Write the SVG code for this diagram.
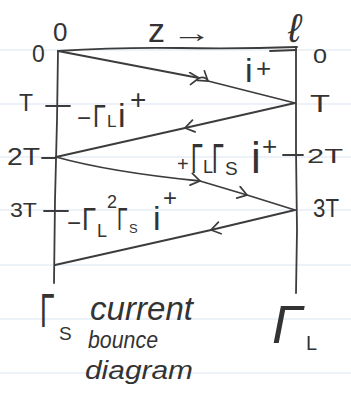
<svg xmlns="http://www.w3.org/2000/svg" width="351" height="395" viewBox="0 0 351 395">
<defs>
<style>
.ink{fill:none;stroke:#3c3c3c;stroke-width:1.8;stroke-linecap:round;stroke-linejoin:round}
.rule{stroke:#d9e5ef;stroke-width:1}
.t{font-family:"Liberation Sans","DejaVu Sans",sans-serif;fill:#333}
.it{font-style:italic}
</style>
<marker id="chev" viewBox="-12 -7 14 14" markerWidth="14" markerHeight="14" refX="0" refY="0" orient="auto" markerUnits="userSpaceOnUse">
<path d="M-9,-6 L0,0 L-9,6" fill="none" stroke="#3c3c3c" stroke-width="1.7" stroke-linecap="round"/>
</marker>
</defs>
<rect width="351" height="395" fill="#fff"/>
<g id="rules">
<line class="rule" x1="0" y1="50" x2="351" y2="50"/>
<line class="rule" x1="0" y1="104" x2="351" y2="104"/>
<line class="rule" x1="0" y1="157" x2="351" y2="157"/>
<line class="rule" x1="0" y1="210" x2="351" y2="210"/>
<line class="rule" x1="0" y1="265" x2="351" y2="265"/>
<line class="rule" x1="0" y1="319" x2="351" y2="319"/>
<line class="rule" x1="0" y1="373" x2="351" y2="373"/>
</g>
<g id="frame">
<path class="ink" d="M58,51 L57,120 L55,200 L54,283"/>
<path class="ink" d="M296,47 L296,150 L297,230 L296,293"/>
<path class="ink" d="M58,51 Q120,47 180,48 T297,47"/>
<path class="ink" d="M270,51 L296,50"/>
<path class="ink" d="M46,106 L70,106"/>
<path class="ink" d="M42,158 L56,158"/>
<path class="ink" d="M44,211 L68,211"/>
<path class="ink" d="M283,155 L303,155"/>
</g>
<g id="connectors">
<path class="ink" marker-mid="url(#chev)" d="M58,51 L199,78 Q205,76 208,81 L295,103"/>
<path class="ink" marker-mid="url(#chev)" d="M295,103 L185,128 L56,157"/>
<path class="ink" marker-mid="url(#chev)" d="M56,157 Q110,172 200,181 L247,195 L295,210"/>
<path class="ink" marker-mid="url(#chev)" d="M295,210 L211,230 L55,265"/>
</g>
<g id="label-top">
<text class="t" x="53" y="41" font-size="26">0</text>
<text class="t" x="32" y="62" font-size="23">0</text>
<text class="t" x="148" y="42" font-size="34">z</text>
<text class="t" x="172" y="42" font-size="26" textLength="40" lengthAdjust="spacingAndGlyphs">→</text>
<text class="t it" x="288" y="42" font-size="40">ℓ</text>
<text class="t" x="313" y="63" font-size="20" textLength="14" lengthAdjust="spacingAndGlyphs">0</text>
</g>
<g id="wave-incident">
<text class="t" x="245" y="82" font-size="34">i</text>
<text class="t" x="256" y="77" font-size="26">+</text>
</g>
<g id="label-T">
<text class="t" x="19" y="111" font-size="23">T</text>
<text class="t" x="310" y="112" font-size="23" textLength="20" lengthAdjust="spacingAndGlyphs">T</text>
</g>
<g id="wave-1">
<text class="t" x="77" y="126" font-size="24">−</text>
<text class="t" transform="translate(93,127) scale(0.75,1)" font-size="31">Γ</text>
<text class="t" x="107" y="127" font-size="17">L</text>
<text class="t" x="118" y="127" font-size="34">i</text>
<text class="t" x="130" y="109" font-size="28">+</text>
</g>
<g id="label-2T">
<text class="t" x="7" y="165" font-size="24" textLength="33" lengthAdjust="spacingAndGlyphs">2T</text>
<text class="t" x="307" y="163" font-size="21" textLength="36" lengthAdjust="spacingAndGlyphs">2T</text>
</g>
<g id="wave-2">
<text class="t" x="177" y="171" font-size="20">+</text>
<text class="t" transform="translate(191,173) scale(0.5,1)" font-size="43">Γ</text>
<text class="t" x="203" y="173" font-size="18">L</text>
<text class="t" transform="translate(212,173) scale(0.5,1)" font-size="43">Γ</text>
<text class="t" x="225" y="175" font-size="19">S</text>
<text class="t" x="251" y="173" font-size="44">i</text>
<text class="t" x="262" y="155" font-size="26">+</text>
</g>
<g id="label-3T">
<text class="t" x="10" y="217" font-size="20" textLength="27" lengthAdjust="spacingAndGlyphs">3T</text>
<text class="t" x="313" y="217" font-size="26" textLength="26" lengthAdjust="spacingAndGlyphs">3T</text>
</g>
<g id="wave-3">
<text class="t" x="67" y="231" font-size="24">−</text>
<text class="t" transform="translate(82,230) scale(0.8,1)" font-size="32">Γ</text>
<text class="t" x="97" y="237" font-size="18">L</text>
<text class="t" x="107" y="208" font-size="18">2</text>
<text class="t" transform="translate(117,230) scale(0.6,1)" font-size="32">Γ</text>
<text class="t" x="129" y="233" font-size="13">S</text>
<text class="t" x="153" y="230" font-size="34">i</text>
<text class="t" x="163" y="206" font-size="24">+</text>
</g>
<g id="gamma-s">
<text class="t" transform="translate(40,327) scale(0.55,1)" font-size="48">Γ</text>
<text class="t" x="59" y="340" font-size="19">S</text>
</g>
<g id="title">
<text class="t it" x="90" y="320" font-size="33" textLength="103" lengthAdjust="spacingAndGlyphs">current</text>
<text class="t it" x="88" y="348" font-size="24" textLength="70" lengthAdjust="spacingAndGlyphs">bounce</text>
<text class="t it" x="85" y="379" font-size="26" textLength="108" lengthAdjust="spacingAndGlyphs">diagram</text>
</g>
<g id="gamma-l">
<text class="t it" x="272" y="343" font-size="54">Γ</text>
<text class="t" x="306" y="350" font-size="20">L</text>
</g>
</svg>
